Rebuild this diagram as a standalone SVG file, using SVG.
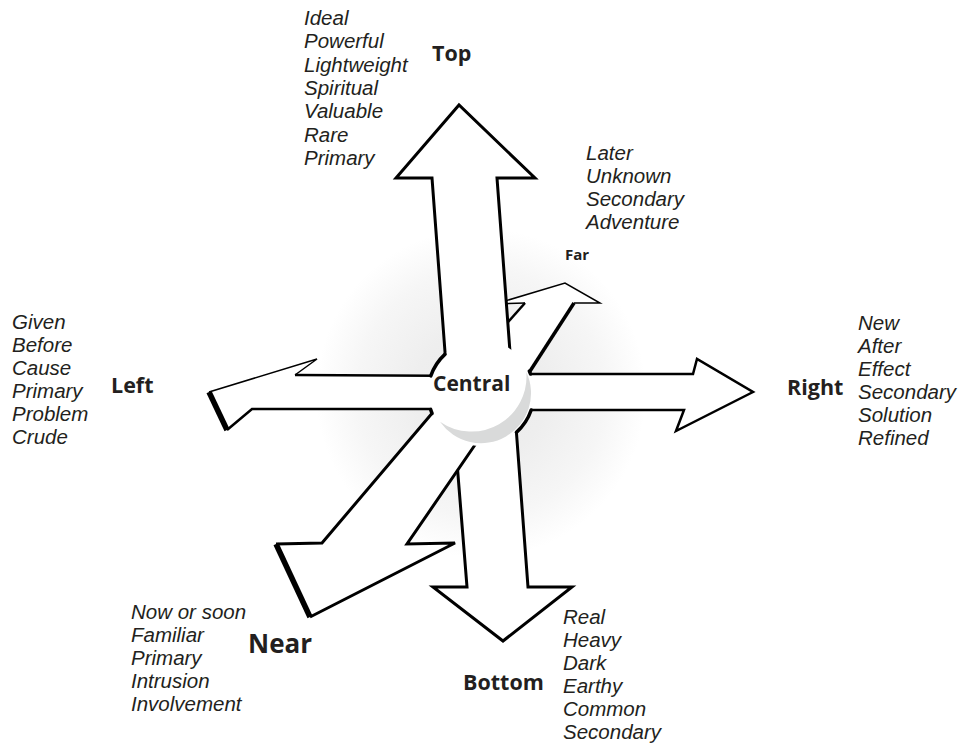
<svg xmlns="http://www.w3.org/2000/svg" width="962" height="751" viewBox="0 0 962 751">
<defs>
<radialGradient id="glow" gradientUnits="userSpaceOnUse" cx="481" cy="393" r="165">
<stop offset="0" stop-color="#ebebeb"/>
<stop offset="0.4" stop-color="#eeeeee"/>
<stop offset="0.75" stop-color="#f6f6f6"/>
<stop offset="1" stop-color="#ffffff"/>
</radialGradient>
<style>
.af{fill:#fff;stroke:none}
.e{fill:none;stroke:#000;stroke-width:3;stroke-linejoin:miter}
.thin{stroke-width:1.5}
.thick{stroke-width:5.5}
.arc{fill:none;stroke:#000;stroke-width:3.5;stroke-linecap:round}
.it{font-family:"Liberation Sans",Arial,sans-serif;font-style:italic;font-size:20.5px;fill:#231f20}
.bd{font-family:"Open Sans","Liberation Sans",sans-serif;font-weight:bold;font-size:21.5px;fill:#231f20}
</style>
</defs>
<rect width="962" height="751" fill="#fff"/>
<circle cx="481" cy="393" r="165" fill="url(#glow)"/>
<g id="connectors">
<g id="arrow-far">
<polygon class="af" points="565,283 600,303 574,303 505,410 443,395 525,303 495,304"/>
<polyline class="e thin" points="495,304 565,283 600,303 574,303"/>
<line class="e" style="stroke-width:3.5" x1="574" y1="303" x2="505" y2="410"/>
<polyline class="e thin" points="495,304 525,303"/>
<line class="e" style="stroke-width:2.5" x1="525" y1="303" x2="443" y2="395"/>
</g>
<g id="arrow-top">
<polygon class="af" points="459,105 535,178 497,178 513,392 448,392 432,178 396,178"/>
<polyline class="e" points="513,392 497,178 535,178 459,105 396,178 432,178 448,392"/>
</g>
<g id="arrow-right">
<polygon class="af" points="481,374 693,374 697,359 753,392 676,431 684,410 481,410"/>
<polyline class="e" style="stroke-width:2.5" points="481,374 693,374 697,359 753,392 676,431 684,410 481,410"/>
</g>
<g id="arrow-left">
<polygon class="af" points="481,376 295,375 317,359 209,392 227,430 252,409 481,409"/>
<polyline class="e" style="stroke-width:2.5" points="481,376 295,375"/>
<polyline class="e thin" points="295,375 317,359 209,392"/>
<line class="e thick" x1="209" y1="392" x2="227" y2="430"/>
<polyline class="e" style="stroke-width:2.5" points="227,430 252,409 481,409"/>
</g>
<g id="arrow-bottom">
<polygon class="af" points="452,400 467,587 433,587 503,641 572,587 528,587 514,400"/>
<polyline class="e" points="452,400 467,587 433,587 503,641 572,587 528,587 514,400"/>
</g>
<g id="arrow-near">
<polygon class="af" points="462,378 322,543 276,544 310,617 455,543 407,544 490,423"/>
<polyline class="e" points="462,378 322,543 276,544"/>
<line class="e thick" x1="276" y1="544" x2="310" y2="617"/>
<polyline class="e" points="310,617 455,543 407,544 490,423"/>
</g>
</g>
<g id="node-central">
<circle cx="481" cy="393" r="53" fill="#fff"/>
<path class="arc" d="M445.1,354.1 A53,53 0 0 0 430.8,375.9"/>
<path class="arc" d="M430.6,409.4 A53,53 0 0 0 432.1,413.5"/>
<path class="arc" d="M516.4,432.4 A53,53 0 0 0 531.2,410"/>
<path class="arc" d="M529.3,371.1 A53,53 0 0 1 530.5,374"/>
<path d="M526.3,371.9 A50,50 0 0 1 440,421.7 A55,55 0 0 0 526.3,371.9 Z" fill="#d9dada"/>
<text class="bd" x="433" y="391" style="font-size:21px">Central</text>
</g>
<g id="node-top">
<text class="bd" x="432" y="61">Top</text>
<text class="it" x="304" y="25">Ideal</text>
<text class="it" x="304" y="48.3">Powerful</text>
<text class="it" x="304" y="71.6">Lightweight</text>
<text class="it" x="304" y="94.9">Spiritual</text>
<text class="it" x="304" y="118.2">Valuable</text>
<text class="it" x="304" y="141.5">Rare</text>
<text class="it" x="304" y="164.8">Primary</text>
</g>
<g id="node-far">
<text class="bd" x="565" y="260" style="font-size:15px">Far</text>
<text class="it" x="586" y="160">Later</text>
<text class="it" x="586" y="183">Unknown</text>
<text class="it" x="586" y="206">Secondary</text>
<text class="it" x="586" y="229">Adventure</text>
</g>
<g id="node-left">
<text class="bd" x="111" y="393">Left</text>
<text class="it" x="12" y="329">Given</text>
<text class="it" x="12" y="352">Before</text>
<text class="it" x="12" y="375">Cause</text>
<text class="it" x="12" y="398">Primary</text>
<text class="it" x="12" y="421">Problem</text>
<text class="it" x="12" y="444">Crude</text>
</g>
<g id="node-right">
<text class="bd" x="787" y="395">Right</text>
<text class="it" x="858" y="330">New</text>
<text class="it" x="858" y="353">After</text>
<text class="it" x="858" y="376">Effect</text>
<text class="it" x="858" y="399">Secondary</text>
<text class="it" x="858" y="422">Solution</text>
<text class="it" x="858" y="445">Refined</text>
</g>
<g id="node-near">
<text class="bd" x="248" y="653" style="font-size:26px">Near</text>
<text class="it" x="131" y="619">Now or soon</text>
<text class="it" x="131" y="642">Familiar</text>
<text class="it" x="131" y="665">Primary</text>
<text class="it" x="131" y="688">Intrusion</text>
<text class="it" x="131" y="711">Involvement</text>
</g>
<g id="node-bottom">
<text class="bd" x="463" y="690">Bottom</text>
<text class="it" x="563" y="624">Real</text>
<text class="it" x="563" y="647">Heavy</text>
<text class="it" x="563" y="670">Dark</text>
<text class="it" x="563" y="693">Earthy</text>
<text class="it" x="563" y="716">Common</text>
<text class="it" x="563" y="739">Secondary</text>
</g>
</svg>
